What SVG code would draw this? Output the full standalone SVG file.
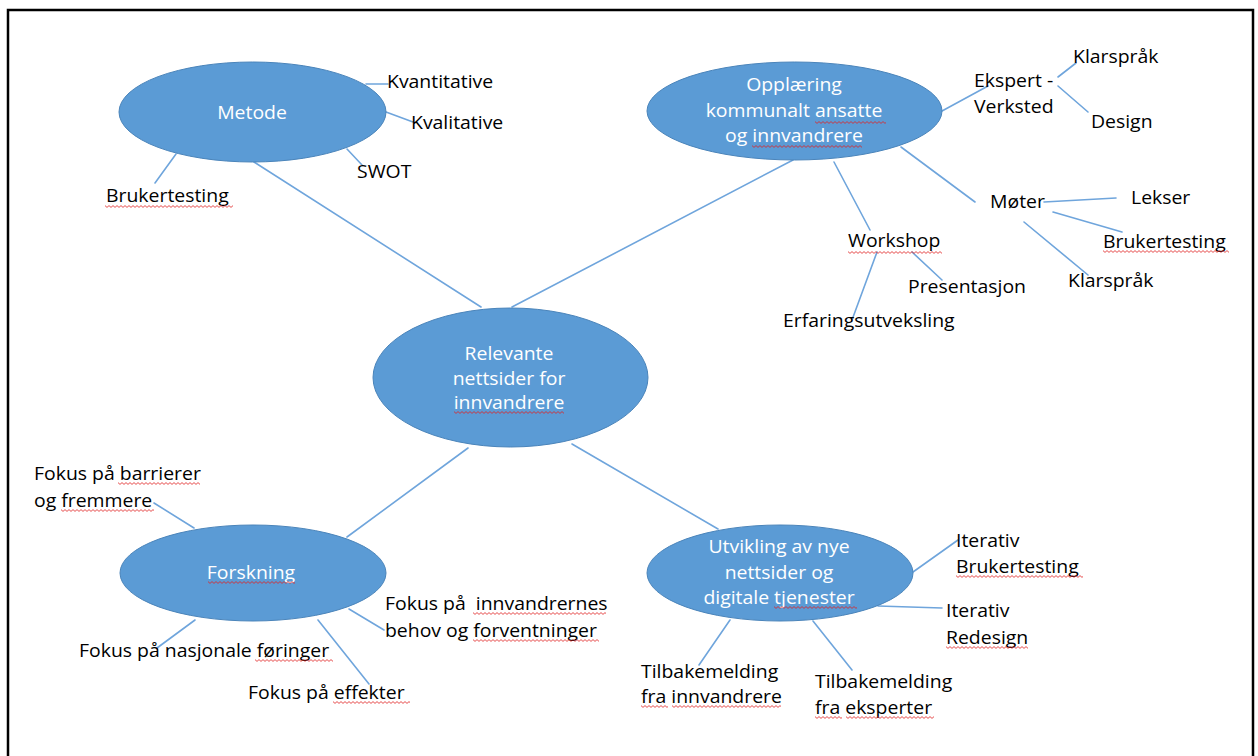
<svg xmlns="http://www.w3.org/2000/svg" width="1258" height="756" viewBox="0 0 1258 756">
<style>
.node ellipse{fill:#5b9bd5;stroke:#4a84ba;stroke-width:1}
.t{font-family:"Open Sans","Liberation Sans",sans-serif;font-size:17.5px;fill:#000}
.w{fill:#ffffff;text-anchor:middle}
.conn line{stroke:#6fa5dc;stroke-width:1.6;stroke-linecap:round}
.sq{fill:url(#wavy)}
</style>
<defs>
<pattern id="wavy" patternUnits="userSpaceOnUse" width="4" height="3">
<path d="M0 0.6 L2 2.4 L4 0.6" fill="none" stroke="#e02020" stroke-width="0.8"/>
</pattern>
</defs>
<rect x="0" y="0" width="1258" height="756" fill="#ffffff"/>
<rect x="8" y="10" width="1245" height="790" fill="none" stroke="#000" stroke-width="2.5"/>

<g id="connectors" class="conn">
<line x1="254" y1="162" x2="481" y2="307"/>
<line x1="793" y1="160" x2="512" y2="307"/>
<line x1="468" y1="448" x2="347" y2="537"/>
<line x1="572" y1="444" x2="718" y2="529"/>
<line x1="366" y1="84" x2="388" y2="84"/>
<line x1="386" y1="112" x2="413" y2="122"/>
<line x1="347" y1="149" x2="362" y2="165"/>
<line x1="176" y1="154" x2="155" y2="183"/>
<line x1="942" y1="111" x2="988" y2="86"/>
<line x1="1058" y1="77" x2="1076" y2="63"/>
<line x1="1058" y1="86" x2="1088" y2="112"/>
<line x1="901" y1="147" x2="975" y2="202"/>
<line x1="1044" y1="202" x2="1116" y2="198"/>
<line x1="1053" y1="212" x2="1122" y2="232"/>
<line x1="1024" y1="222" x2="1088" y2="275"/>
<line x1="834" y1="162" x2="870" y2="230"/>
<line x1="912" y1="252" x2="942" y2="280"/>
<line x1="877" y1="252" x2="852" y2="320"/>
<line x1="154" y1="503" x2="194" y2="528"/>
<line x1="349" y1="609" x2="384" y2="630"/>
<line x1="195" y1="620" x2="157" y2="648"/>
<line x1="318" y1="620" x2="369" y2="684"/>
<line x1="913" y1="572" x2="958" y2="540"/>
<line x1="878" y1="606" x2="942" y2="608"/>
<line x1="730" y1="620" x2="699" y2="665"/>
<line x1="813" y1="621" x2="852" y2="670"/>
</g>

<g id="center" class="node">
<ellipse cx="510.5" cy="377.5" rx="137.5" ry="69.5"/>
<text class="t w" transform="translate(509 0) scale(1.11 1)"><tspan x="0" y="360">Relevante</tspan><tspan x="0" y="385">nettsider for</tspan><tspan x="0" y="409">innvandrere</tspan></text>
</g>
<g id="metode" class="node">
<ellipse cx="252.5" cy="112" rx="133.5" ry="50"/>
<text class="t w" transform="translate(252 119) scale(1.11 1)">Metode</text>
</g>
<g id="opplaering" class="node">
<ellipse cx="794.5" cy="111" rx="147.5" ry="49"/>
<text class="t w" transform="translate(794 0) scale(1.11 1)"><tspan x="0" y="91">Opplæring</tspan><tspan x="0" y="117">kommunalt ansatte</tspan><tspan x="0" y="142">og innvandrere</tspan></text>
</g>
<g id="forskning" class="node">
<ellipse cx="253" cy="573" rx="133" ry="48"/>
<text class="t w" transform="translate(251 579) scale(1.11 1)">Forskning</text>
</g>
<g id="utvikling" class="node">
<ellipse cx="780" cy="573" rx="133" ry="48"/>
<text class="t w" transform="translate(779 0) scale(1.11 1)"><tspan x="0" y="553">Utvikling av nye</tspan><tspan x="0" y="579">nettsider og</tspan><tspan x="0" y="604">digitale tjenester</tspan></text>
</g>

<g id="kvantitative"><text class="t" transform="translate(387 88) scale(1.11 1)">Kvantitative</text></g>
<g id="kvalitative"><text class="t" transform="translate(411 129) scale(1.11 1)">Kvalitative</text></g>
<g id="swot"><text class="t" transform="translate(357 178) scale(1.11 1)">SWOT</text></g>
<g id="brukertesting1"><text class="t" transform="translate(106 202) scale(1.11 1)">Brukertesting</text></g>
<g id="ekspert"><text class="t" transform="translate(974 0) scale(1.11 1)"><tspan x="0" y="87">Ekspert -</tspan><tspan x="0" y="113">Verksted</tspan></text></g>
<g id="klarsprak1"><text class="t" transform="translate(1073 63) scale(1.11 1)">Klarspråk</text></g>
<g id="design"><text class="t" transform="translate(1091 128) scale(1.11 1)">Design</text></g>
<g id="moter"><text class="t" transform="translate(990 208) scale(1.11 1)">Møter</text></g>
<g id="lekser"><text class="t" transform="translate(1131 204) scale(1.11 1)">Lekser</text></g>
<g id="brukertesting2"><text class="t" transform="translate(1103 248) scale(1.11 1)">Brukertesting</text></g>
<g id="klarsprak2"><text class="t" transform="translate(1068 287) scale(1.11 1)">Klarspråk</text></g>
<g id="workshop"><text class="t" transform="translate(848 247) scale(1.11 1)">Workshop</text></g>
<g id="presentasjon"><text class="t" transform="translate(908 293) scale(1.11 1)">Presentasjon</text></g>
<g id="erfaring"><text class="t" transform="translate(783 327) scale(1.11 1)">Erfaringsutveksling</text></g>
<g id="barrierer"><text class="t" transform="translate(34 0) scale(1.11 1)"><tspan x="0" y="480">Fokus på barrierer</tspan><tspan x="0" y="507">og fremmere</tspan></text></g>
<g id="behov"><text class="t" transform="translate(385 0) scale(1.11 1)" xml:space="preserve"><tspan x="0" y="610">Fokus på  innvandrernes</tspan><tspan x="0" y="637">behov og forventninger</tspan></text></g>
<g id="nasjonale"><text class="t" transform="translate(79 657) scale(1.11 1)">Fokus på nasjonale føringer</text></g>
<g id="effekter"><text class="t" transform="translate(248 699) scale(1.11 1)">Fokus på effekter</text></g>
<g id="iterativ1"><text class="t" transform="translate(956 0) scale(1.11 1)"><tspan x="0" y="547">Iterativ</tspan><tspan x="0" y="573">Brukertesting</tspan></text></g>
<g id="iterativ2"><text class="t" transform="translate(946 0) scale(1.11 1)"><tspan x="0" y="617">Iterativ</tspan><tspan x="0" y="644">Redesign</tspan></text></g>
<g id="tilbake1"><text class="t" transform="translate(641 0) scale(1.11 1)"><tspan x="0" y="678">Tilbakemelding</tspan><tspan x="0" y="703">fra innvandrere</tspan></text></g>
<g id="tilbake2"><text class="t" transform="translate(815 0) scale(1.11 1)"><tspan x="0" y="688">Tilbakemelding</tspan><tspan x="0" y="714">fra eksperter</tspan></text></g>

<g id="spellmarks">
<rect class="sq" transform="translate(105 205)" width="128" height="3"/>
<rect class="sq" transform="translate(815 121)" width="71" height="3"/>
<rect class="sq" transform="translate(752 145)" width="110" height="3"/>
<rect class="sq" transform="translate(848 251)" width="94" height="3"/>
<rect class="sq" transform="translate(1103 250)" width="126" height="3"/>
<rect class="sq" transform="translate(454 411)" width="110" height="3"/>
<rect class="sq" transform="translate(208 581)" width="87" height="3"/>
<rect class="sq" transform="translate(118 482)" width="82" height="3"/>
<rect class="sq" transform="translate(61 509)" width="93" height="3"/>
<rect class="sq" transform="translate(473 612)" width="133" height="3"/>
<rect class="sq" transform="translate(473 639)" width="126" height="3"/>
<rect class="sq" transform="translate(255 659)" width="78" height="3"/>
<rect class="sq" transform="translate(333 701)" width="77" height="3"/>
<rect class="sq" transform="translate(774 606)" width="83" height="3"/>
<rect class="sq" transform="translate(956 575)" width="127" height="3"/>
<rect class="sq" transform="translate(946 646)" width="82" height="3"/>
<rect class="sq" transform="translate(641 705)" width="27" height="3"/>
<rect class="sq" transform="translate(672 705)" width="109" height="3"/>
<rect class="sq" transform="translate(815 716)" width="27" height="3"/>
<rect class="sq" transform="translate(846 716)" width="88" height="3"/>
</g>
</svg>
